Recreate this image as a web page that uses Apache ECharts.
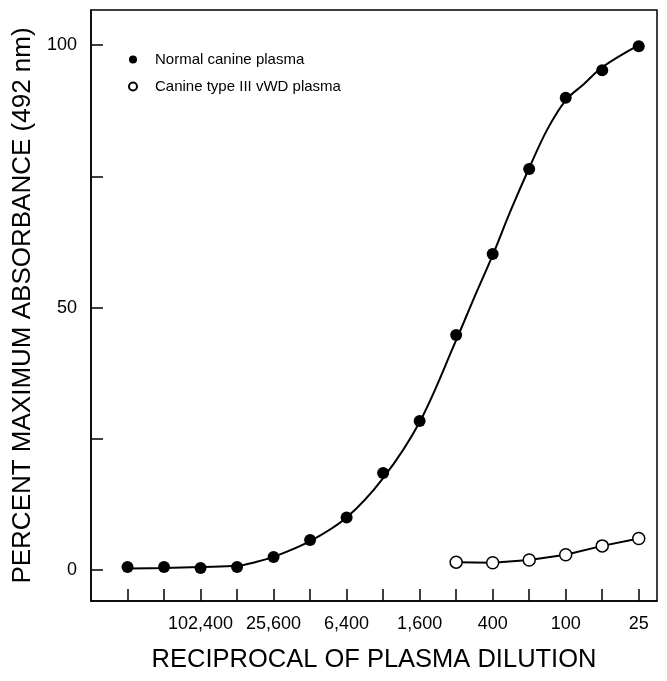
<!DOCTYPE html>
<html><head><meta charset="utf-8">
<script src="https://cdn.jsdelivr.net/npm/echarts@6/dist/echarts.min.js"></script>
<style>html,body{margin:0;padding:0;background:#fff}#c{width:667px;height:681px}</style>
</head><body><div id="c"></div>
<script>
// x positions are dilution step indices (0 = 1:409,600 ... 14 = 1:25)
var dilutionLabels = {2:'102,400',4:'25,600',6:'6,400',8:'1,600',10:'400',12:'100',14:'25'};
var normalX = [0,1,2,3,4,5,6,7,8,9,10,11,12,13,14];
var normalY = [0.6,0.6,0.4,0.6,2.5,5.7,10,18.5,28.4,44.8,60.2,76.4,90,95.2,99.8];
var vwdX = [9,10,11,12,13,14];
var vwdY = [1.5,1.4,1.9,2.9,4.6,6.0];
var curveX = [0,1,2,3,3.5,4,5,6,7,8,9,9.5,10,10.5,11,11.5,12,12.5,13,14];
var curveY = [0.3,0.4,0.6,0.8,1.5,2.5,5.5,10,17.5,28.2,43.8,52,60,68.6,76.6,84,89.5,92.6,95.8,100];
var yTicks = [0,25,50,75,100];
var yLabels = [0,50,100];

function pairs(xs, ys){ return xs.map(function(x,i){return [x, ys[i]];}); }
var chart = echarts.init(document.getElementById('c'));
var font = '"Liberation Sans", Arial, sans-serif';
chart.setOption({
  animation:false,
  grid:{left:91,right:10,top:10,bottom:80,show:true,borderColor:'#000',borderWidth:1.5,
        containLabel:false,outerBoundsMode:'none'},
  legend:{
    orient:'vertical',left:123,top:47,itemGap:12,itemWidth:34,itemHeight:8,
    textStyle:{fontFamily:font,fontSize:15,color:'#000'},
    data:[{name:'Normal canine plasma',icon:'circle'},{name:'Canine type III vWD plasma',icon:'circle'}]
  },
  xAxis:{
    type:'value',min:-1,max:14.5,
    name:'RECIPROCAL OF PLASMA DILUTION',nameLocation:'middle',nameGap:46,
    nameTextStyle:{fontFamily:font,fontSize:25.5,color:'#000'},
    axisLine:{show:true,onZero:false,lineStyle:{color:'#000',width:1.5}},
    axisTick:{show:true,inside:true,length:12,lineStyle:{color:'#000',width:1.5},customValues:normalX},
    axisLabel:{fontFamily:font,fontSize:18,color:'#000',margin:14,
      customValues:[2,4,6,8,10,12,14],
      formatter:function(v){return dilutionLabels[v]||'';}},
    splitLine:{show:false}
  },
  yAxis:{
    type:'value',min:-5.9,max:106.7,
    name:'PERCENT MAXIMUM ABSORBANCE (492 nm)',nameLocation:'middle',nameGap:55,
    nameTextStyle:{fontFamily:font,fontSize:26,color:'#000'},
    axisLine:{show:true,onZero:false,lineStyle:{color:'#000',width:1.5}},
    axisTick:{show:true,inside:true,length:12,lineStyle:{color:'#000',width:1.5},customValues:yTicks},
    axisLabel:{fontFamily:font,fontSize:18,color:'#000',margin:14,customValues:yLabels},
    splitLine:{show:false}
  },
  series:[
    {name:'fit',type:'line',data:pairs(curveX,curveY),smooth:0.35,showSymbol:false,symbol:'none',
     lineStyle:{color:'#000',width:2},silent:true,z:2},
    {name:'Normal canine plasma',type:'scatter',data:pairs(normalX,normalY),symbol:'circle',symbolSize:12,
     itemStyle:{color:'#000',opacity:1},z:3},
    {name:'Canine type III vWD plasma',type:'line',data:pairs(vwdX,vwdY),symbol:'circle',symbolSize:12,showAllSymbol:true,
     lineStyle:{color:'#000',width:2},itemStyle:{color:'#fff',borderColor:'#000',borderWidth:1.5,opacity:1},z:3}
  ]
});
</script></body></html>
